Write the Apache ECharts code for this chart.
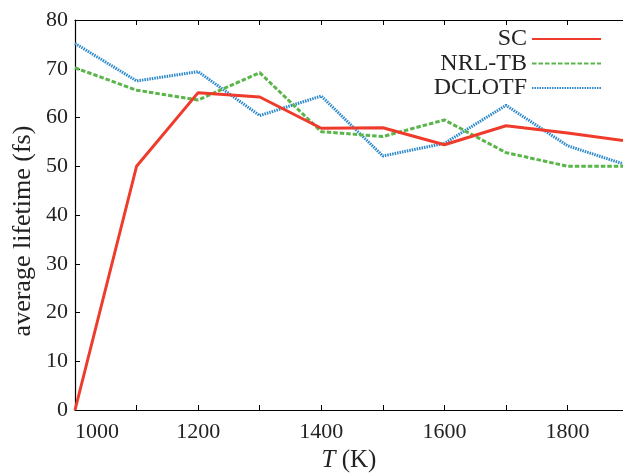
<!DOCTYPE html>
<html><head><meta charset="utf-8">
<script src="https://cdn.jsdelivr.net/npm/echarts@6/dist/echarts.min.js"></script>
<style>html,body{margin:0;padding:0;background:#fff}#c{width:623px;height:475px}</style>
</head><body><div id="c"></div>
<script>
const temperatures = [1000, 1100, 1200, 1300, 1400, 1500, 1600, 1700, 1800, 1890];
const scValues = [0, 50.0, 65.1, 64.2, 57.8, 57.9, 54.4, 58.3, 56.8, 55.3];
const nrlValues = [70.2, 65.6, 63.6, 69.2, 57.1, 56.1, 59.5, 52.8, 50.0, 50.0];
const dclotfValues = [75.2, 67.5, 69.4, 60.4, 64.4, 52.1, 54.7, 62.5, 54.2, 50.5];
const seriesNames = ['SC', 'NRL-TB', 'DCLOTF'];
const xTickLabels = ['1000', '1200', '1400', '1600', '1800'];
const yTickLabels = ['0', '10', '20', '30', '40', '50', '60', '70', '80'];

const FONT = 'Liberation Serif';
const pairs = vals => temperatures.map((t, i) => [t, vals[i]]);
const axisLine = { show: true, lineStyle: { color: '#000', width: 1.2 } };
const axisTick = { show: true, inside: true, length: 5, lineStyle: { color: '#000', width: 1 } };

const chart = echarts.init(document.getElementById('c'), null, { renderer: 'canvas' });
chart.setOption({
  animation: false,
  backgroundColor: '#fff',
  grid: { left: 75, top: 20, right: 0, bottom: 65, containLabel: false, outerBoundsMode: 'none' },
  legend: {
    orient: 'vertical', align: 'right', right: 21, top: 27, padding: 0,
    itemWidth: 69, itemHeight: 14, itemGap: 0.5,
    data: seriesNames,
    itemStyle: { opacity: 0 },
    textStyle: { fontFamily: FONT, fontSize: 24, color: '#222', lineHeight: 23 }
  },
  xAxis: [{
    type: 'value', min: 1000, max: 1890, interval: 100,
    name: '{it|T} (K)', nameLocation: 'middle', nameGap: 37,
    nameTextStyle: { fontFamily: FONT, fontSize: 25, color: '#222',
      rich: { it: { fontFamily: FONT, fontStyle: 'italic', fontSize: 25, color: '#222' } } },
    axisLine, axisTick, splitLine: { show: false },
    axisLabel: { fontFamily: FONT, fontSize: 22, color: '#222', margin: 11, alignMinLabel: 'left', showMaxLabel: false,
      formatter: v => xTickLabels.includes(String(v)) ? String(v) : '' }
  }, {
    type: 'value', position: 'top', min: 1000, max: 1890, interval: 100,
    axisLine, axisTick, splitLine: { show: false }, axisLabel: { show: false }
  }],
  yAxis: {
    type: 'value', min: 0, max: 80, interval: 10,
    axisLine, axisTick, splitLine: { show: false },
    axisLabel: { fontFamily: FONT, fontSize: 22, color: '#222', margin: 7,
      formatter: v => yTickLabels.includes(String(v)) ? String(v) : '' }
  },
  graphic: [{
    type: 'text', x: 23, y: 231, rotation: Math.PI / 2,
    style: { text: 'average lifetime (fs)', fontFamily: FONT, fontSize: 26, fill: '#222',
      align: 'center', verticalAlign: 'middle' }
  }],
  series: [{
    name: seriesNames[0], type: 'line', symbol: 'none', data: pairs(scValues),
    lineStyle: { color: '#ee3b2b', width: 3 }, itemStyle: { color: '#ee3b2b' }, z: 4
  }, {
    name: seriesNames[1], type: 'line', symbol: 'none', data: pairs(nrlValues),
    lineStyle: { color: '#5ab54a', width: 3, type: [4.5, 2] }, itemStyle: { color: '#5ab54a' }, z: 3
  }, {
    name: seriesNames[2], type: 'line', symbol: 'none', data: pairs(dclotfValues),
    lineStyle: { color: '#2c88cc', width: 3, type: [1.5, 1] }, itemStyle: { color: '#2c88cc' }, z: 2
  }]
});
</script></body></html>
